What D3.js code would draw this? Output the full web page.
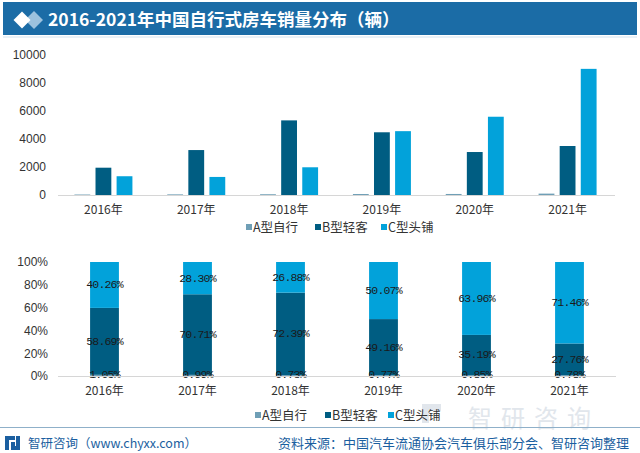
<!DOCTYPE html>
<html><head><meta charset="utf-8">
<script src="https://cdn.jsdelivr.net/npm/d3@7/dist/d3.min.js"></script>
<style>
html,body{margin:0;padding:0;background:#fff;}
svg{display:block;}
</style></head>
<body>
<svg id="c" width="640" height="453"></svg>
<script>
const years = ["2016年","2017年","2018年","2019年","2020年","2021年"];
const seriesNames = ["A型自行","B型轻客","C型头铺"];
const seriesColors = ["#6f9fb6","#005d82","#02a2da"];
const valuesA = [35, 45, 54, 70, 74, 98];
const valuesB = [1950, 3210, 5330, 4480, 3070, 3500];
const valuesC = [1340, 1290, 1980, 4560, 5590, 9010];
const pctA = [1.05, 0.99, 0.73, 0.77, 0.85, 0.78];
const pctB = [58.69, 70.71, 72.39, 49.16, 35.19, 27.76];
const pctC = [40.26, 28.30, 26.88, 50.07, 63.96, 71.46];
const countTicks = [0, 2000, 4000, 6000, 8000, 10000];
const pctTicks = [0, 20, 40, 60, 80, 100];
const titleText = "2016-2021年中国自行式房车销量分布（辆）";
const footLeft = "智研咨询（www.chyxx.com）";
const footRight = "资料来源：中国汽车流通协会汽车俱乐部分会、智研咨询整理";

const svg = d3.select("#c");
const sans = "'Liberation Sans', Arial, sans-serif";
const cjk = "'Noto Sans CJK SC', sans-serif";

// watermark
const wm = svg.append("g").attr("fill","#e1e6ec");
wm.append("text").attr("x",534).attr("y",427).attr("text-anchor","middle")
  .attr("font-family",cjk).attr("font-size",24).attr("letter-spacing",9).text("智研咨询");
wm.append("rect").attr("x",422).attr("y",404).attr("width",7).attr("height",19);
wm.append("rect").attr("x",422).attr("y",404).attr("width",19).attr("height",7);

// title bar
svg.append("rect").attr("x",3).attr("y",2).attr("width",634).attr("height",33).attr("fill","#1b6ca6");
svg.append("line").attr("x1",3).attr("x2",637).attr("y1",37).attr("y2",37).attr("stroke","#d3e3ef").attr("stroke-width",1);
const dia = (cx,cy,r,fill)=>svg.append("path")
  .attr("d",`M${cx-r},${cy}L${cx},${cy-r}L${cx+r},${cy}L${cx},${cy+r}Z`).attr("fill",fill);
dia(34,20,9,"#9cc2de");
dia(22,20,8.5,"#ffffff");
svg.append("text").attr("x",48).attr("y",26).attr("fill","#fff")
  .attr("font-family",cjk).attr("font-weight","bold").attr("font-size",17.5).text(titleText);

// ---------- top grouped bar chart ----------
const y1 = d3.scaleLinear().domain([0,10000]).range([195,55]);
const x1 = d3.scaleBand().domain(years).range([57,614]).padding(0);
const xi = d3.scaleBand().domain(seriesNames).range([0,58]).paddingInner(0.25);
const countData = [valuesA, valuesB, valuesC];

const g1 = svg.append("g");
seriesNames.forEach((s,si)=>{
  g1.selectAll(null).data(years).enter().append("rect")
    .attr("x",d=>x1(d)+x1.bandwidth()/2-29+xi(s))
    .attr("width",xi.bandwidth())
    .attr("y",(d,i)=>y1(countData[si][i]))
    .attr("height",(d,i)=>y1(0)-y1(countData[si][i]))
    .attr("fill",seriesColors[si]);
});
const ax1 = svg.append("g").attr("transform","translate(46,0)")
  .call(d3.axisLeft(y1).tickValues(countTicks).tickFormat(d3.format("d")).tickSize(0).tickPadding(0));
ax1.select(".domain").remove();
ax1.selectAll("text").attr("font-family",sans).attr("font-size",12).attr("fill","#333");
const bx1 = svg.append("g").attr("transform","translate(0,195)")
  .call(d3.axisBottom(x1).tickSize(0).tickPadding(10));
bx1.select(".domain").attr("stroke","#d6d6d6").attr("d","M58,0.5H615");
bx1.selectAll("text").attr("font-family",cjk).attr("font-size",12).attr("fill","#333");

// legend helper
function legend(y, xs){
  const lg = svg.append("g");
  seriesNames.forEach((s,i)=>{
    lg.append("rect").attr("x",xs[i]).attr("y",y-3).attr("width",6).attr("height",6).attr("fill",seriesColors[i]);
    lg.append("text").attr("x",xs[i]+7).attr("y",y+4.5).attr("font-family",cjk).attr("font-size",12.5)
      .attr("fill","#333").text(s);
  });
}
legend(227,[246,315,381]);

// ---------- bottom stacked percent chart ----------
const y2 = d3.scaleLinear().domain([0,100]).range([376,262]);
const x2 = d3.scaleBand().domain(years).range([58,616]).paddingInner(0.69).paddingOuter(0.345);
const rows = years.map((yr,i)=>({year:yr, A:pctA[i], B:pctB[i], C:pctC[i]}));
const stack = d3.stack().keys(["A","B","C"])(rows);
const g2 = svg.append("g");
stack.forEach((layer,si)=>{
  g2.selectAll(null).data(layer).enter().append("rect")
    .attr("x",d=>x2(d.data.year)).attr("width",x2.bandwidth())
    .attr("y",d=>y2(d[1])).attr("height",d=>y2(d[0])-y2(d[1]))
    .attr("fill",seriesColors[si]);
});
const ax2 = svg.append("g").attr("transform","translate(48,0)")
  .call(d3.axisLeft(y2).tickValues(pctTicks).tickFormat(d=>d+"%").tickSize(0).tickPadding(0));
ax2.select(".domain").remove();
ax2.selectAll("text").attr("font-family",sans).attr("font-size",12).attr("fill","#333");
const bx2 = svg.append("g").attr("transform","translate(0,376)")
  .call(d3.axisBottom(x2).tickSize(0).tickPadding(10));
bx2.select(".domain").attr("stroke","#d6d6d6").attr("d","M58,0.5H616");
bx2.selectAll("text").attr("font-family",cjk).attr("font-size",12).attr("fill","#333");
stack.forEach((layer,si)=>{
  g2.selectAll(null).data(layer).enter().append("text")
    .attr("x",d=>x2(d.data.year)+x2.bandwidth()/2)
    .attr("y",d=>y2((d[0]+d[1])/2)+(si===0?2.5:3.5))
    .attr("text-anchor","middle")
    .attr("font-family","'Liberation Mono', monospace").attr("font-size",11.5)
    .attr("letter-spacing",-0.8).attr("fill","#1a1a1a")
    .text(d=>(d[1]-d[0]).toFixed(2)+"%");
});
legend(415,[255,325,388]);

// footer
svg.append("line").attr("x1",0).attr("x2",640).attr("y1",427.5).attr("y2",427.5).attr("stroke","#8fb0c9").attr("stroke-width",1.2);
const logo = svg.append("g").attr("fill","#1b5fa0");
logo.append("rect").attr("x",5).attr("y",436).attr("width",4).attr("height",14);
logo.append("rect").attr("x",5).attr("y",436).attr("width",10).attr("height",4);
logo.append("rect").attr("x",11).attr("y",442).attr("width",4).attr("height",4);
logo.append("rect").attr("x",16).attr("y",436).attr("width",4).attr("height",14);
logo.append("rect").attr("x",11).attr("y",446).attr("width",9).attr("height",4);
svg.append("text").attr("x",28).attr("y",448).attr("font-family",cjk).attr("font-size",12.5)
  .attr("fill","#1b5fa0").text(footLeft);
svg.append("text").attr("x",629).attr("y",448).attr("text-anchor","end").attr("font-family",cjk).attr("font-size",13)
  .attr("fill","#1b5fa0").text(footRight);
</script>
</body></html>
